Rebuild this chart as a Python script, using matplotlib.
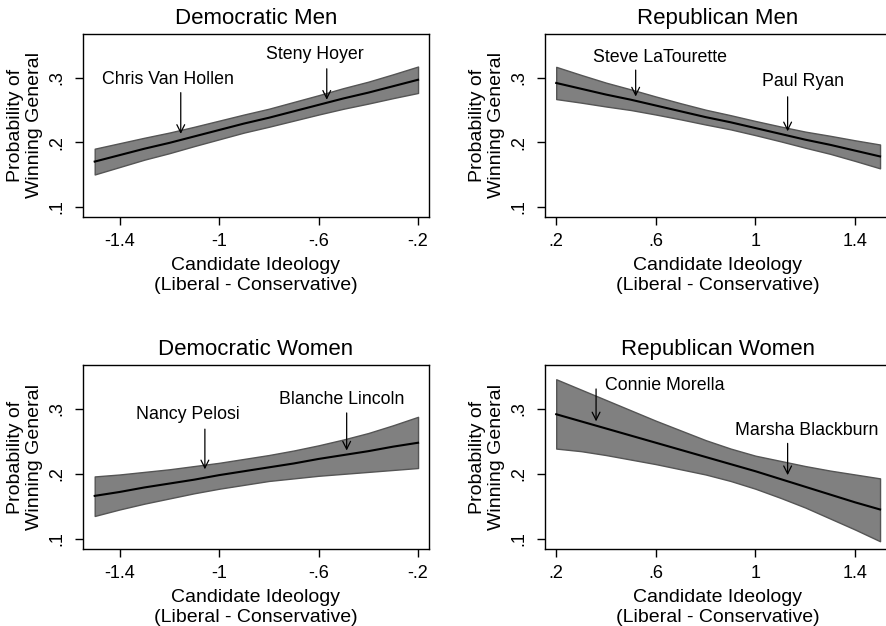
import matplotlib
matplotlib.use("Agg")
import matplotlib.pyplot as plt

plt.rcParams['font.family'] = ['Liberation Sans', 'DejaVu Sans']

# predicted probabilities with confidence bands
dem_x = [-1.5, -1.4, -1.3, -1.2, -1.1, -1.0, -0.9, -0.8, -0.7, -0.6, -0.5, -0.4, -0.3, -0.2]
rep_x = [0.2, 0.3, 0.4, 0.5, 0.6, 0.7, 0.8, 0.9, 1.0, 1.1, 1.2, 1.3, 1.4, 1.5]

dem_men_mean = [0.170, 0.180, 0.190, 0.199, 0.209, 0.219, 0.229, 0.238, 0.248, 0.258, 0.268, 0.277, 0.287, 0.297]
dem_men_hi = [0.190, 0.1985, 0.207, 0.215, 0.224, 0.2335, 0.243, 0.252, 0.2625, 0.273, 0.284, 0.294, 0.3055, 0.3175]
dem_men_lo = [0.150, 0.1615, 0.173, 0.183, 0.194, 0.2045, 0.215, 0.224, 0.2335, 0.243, 0.252, 0.260, 0.2685, 0.2765]

rep_men_mean = [0.292, 0.283, 0.274, 0.266, 0.257, 0.248, 0.239, 0.231, 0.222, 0.213, 0.204, 0.196, 0.187, 0.178]
rep_men_hi = [0.317, 0.3045, 0.2925, 0.282, 0.271, 0.2605, 0.2505, 0.242, 0.233, 0.2245, 0.2165, 0.210, 0.203, 0.1965]
rep_men_lo = [0.267, 0.2615, 0.2555, 0.250, 0.243, 0.2355, 0.2275, 0.220, 0.211, 0.2015, 0.1915, 0.182, 0.171, 0.1595]

dem_women_mean = [0.166, 0.172, 0.179, 0.185, 0.191, 0.198, 0.204, 0.210, 0.216, 0.223, 0.229, 0.235, 0.242, 0.248]
dem_women_hi = [0.196, 0.199, 0.203, 0.207, 0.212, 0.217, 0.223, 0.229, 0.236, 0.244, 0.253, 0.263, 0.275, 0.288]
dem_women_lo = [0.135, 0.145, 0.154, 0.162, 0.170, 0.177, 0.183, 0.189, 0.193, 0.197, 0.200, 0.203, 0.206, 0.209]

rep_women_mean = [0.292, 0.281, 0.270, 0.259, 0.248, 0.237, 0.226, 0.215, 0.204, 0.192, 0.180, 0.168, 0.156, 0.145]
rep_women_hi = [0.346, 0.330, 0.314, 0.298, 0.282, 0.267, 0.252, 0.239, 0.228, 0.220, 0.212, 0.205, 0.199, 0.193]
rep_women_lo = [0.239, 0.235, 0.229, 0.222, 0.215, 0.207, 0.199, 0.189, 0.177, 0.163, 0.148, 0.131, 0.114, 0.096]

dem_ticks = [-1.4, -1.0, -0.6, -0.2]
dem_ticklabels = ["-1.4", "-1", "-.6", "-.2"]
rep_ticks = [0.2, 0.6, 1.0, 1.4]
rep_ticklabels = [".2", ".6", "1", "1.4"]
y_ticks = [0.1, 0.2, 0.3]
y_ticklabels = [".1", ".2", ".3"]

# (name, ideology, arrow head y, arrow tail y, text x, text y)
dem_men_notes = [("Chris Van Hollen", -1.154, 0.213, 0.277, -1.207, 0.297),
                 ("Steny Hoyer", -0.567, 0.266, 0.314, -0.615, 0.336)]
rep_men_notes = [("Steve LaTourette", 0.519, 0.271, 0.312, 0.618, 0.331),
                 ("Paul Ryan", 1.129, 0.217, 0.2705, 1.189, 0.294)]
dem_women_notes = [("Nancy Pelosi", -1.057, 0.207, 0.269, -1.124, 0.292),
                   ("Blanche Lincoln", -0.487, 0.236, 0.294, -0.508, 0.314)]
rep_women_notes = [("Connie Morella", 0.36, 0.281, 0.331, 0.637, 0.336),
                   ("Marsha Blackburn", 1.129, 0.198, 0.247, 1.206, 0.267)]

panels = [
    ("Democratic Men", dem_x, dem_men_mean, dem_men_lo, dem_men_hi, dem_men_notes, True),
    ("Republican Men", rep_x, rep_men_mean, rep_men_lo, rep_men_hi, rep_men_notes, False),
    ("Democratic Women", dem_x, dem_women_mean, dem_women_lo, dem_women_hi, dem_women_notes, True),
    ("Republican Women", rep_x, rep_women_mean, rep_women_lo, rep_women_hi, rep_women_notes, False),
]

W, H = 887, 626
fig = plt.figure(figsize=(W / 100, H / 100), dpi=100)

# axes boxes in pixels: left, top, width, height
boxes = [(83, 34, 346, 183), (545, 34, 346, 183),
         (83, 365, 346, 184), (545, 365, 346, 184)]

for (title, xs, mean, lo, hi, notes, is_dem), (l, t, w, h) in zip(panels, boxes):
    ax = fig.add_axes([l / W, 1 - (t + h) / H, w / W, h / H])
    ax.fill_between(xs, lo, hi, facecolor='#808080', edgecolor='#555555', lw=1.0)
    ax.plot(xs, mean, color='black', lw=1.5)

    if is_dem:
        ax.set_xlim(-1.547, -0.156)
        ax.set_xticks(dem_ticks)
        ax.set_xticklabels(dem_ticklabels)
    else:
        ax.set_xlim(0.155, 1.544)
        ax.set_xticks(rep_ticks)
        ax.set_xticklabels(rep_ticklabels)
    ax.set_ylim(0.084, 0.368)
    ax.set_yticks(y_ticks)
    ax.set_yticklabels(y_ticklabels, rotation=90, va='center')

    ax.tick_params(axis='both', direction='out', length=5.5, width=1,
                   labelsize=13, colors='black')
    ax.tick_params(axis='x', pad=6)
    ax.tick_params(axis='y', pad=7)
    for sp in ax.spines.values():
        sp.set_linewidth(1)
        sp.set_color('black')

    ax.set_title(title, fontsize=16, pad=7)
    ax.set_xlabel("Candidate Ideology\n(Liberal - Conservative)", fontsize=14,
                  labelpad=5, linespacing=1.2)
    ax.set_ylabel("Probability of\nWinning General", fontsize=14,
                  labelpad=4, linespacing=1.15)

    for name, xv, yhead, ytail, tx, ty in notes:
        ax.annotate('', xy=(xv, yhead), xytext=(xv, ytail),
                    arrowprops=dict(arrowstyle='->', lw=0.9, color='black',
                                    mutation_scale=14, shrinkA=0, shrinkB=0))
        ax.text(tx, ty, name, fontsize=12.8, ha='center', va='center')

fig.savefig("out.png", dpi=100)
